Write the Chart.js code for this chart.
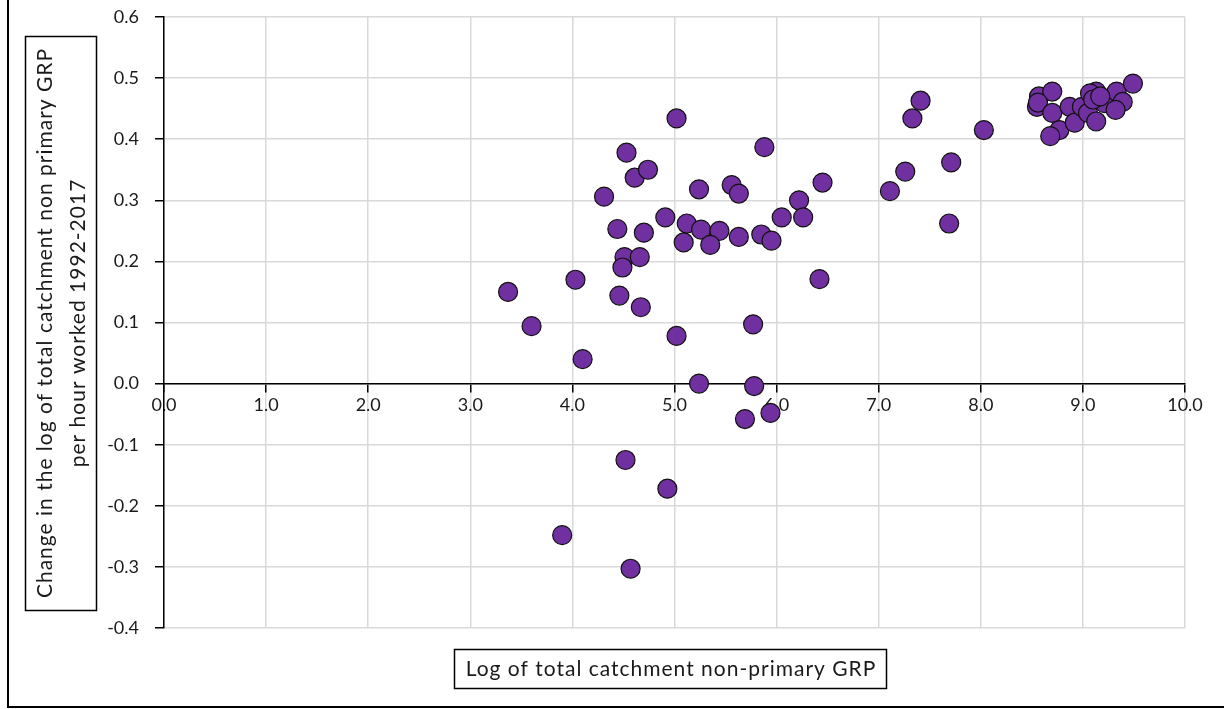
<!DOCTYPE html>
<html>
<head>
<meta charset="utf-8">
<script src="https://cdn.jsdelivr.net/npm/chart.js@4.4.1/dist/chart.umd.min.js"></script>
<style>
  html, body { margin: 0; padding: 0; background: #fff; }
  .chart-wrap { position: relative; width: 1224px; height: 709px; }
</style>
</head>
<body>
<div class="chart-wrap"><canvas id="chart"></canvas></div>
<script>
// Log of total catchment non-primary GRP
const xVals = [
  3.37, 3.60, 4.03, 4.10, 3.90, 4.31, 4.44, 4.46, 4.53, 4.51,
  4.49, 4.61, 4.74, 4.66, 4.70, 4.67, 4.52, 4.57, 4.91, 4.93,
  5.02, 5.02, 5.12, 5.09, 5.24, 5.26, 5.24, 5.44, 5.35, 5.56,
  5.63, 5.63, 5.88, 5.85, 5.95, 5.77, 5.78, 5.94, 5.69, 6.05,
  6.22, 6.26, 6.45, 6.42, 7.11, 7.26, 7.33, 7.41, 7.71, 7.69,
  8.03, 8.57, 8.70, 8.55, 8.56, 8.70, 8.87, 8.77, 8.68, 8.92,
  8.99, 9.05, 9.13, 9.13, 9.07, 9.21, 9.33, 9.39, 9.32, 9.49,
  9.10, 9.17,
];
// Change in log GRP per hour worked 1992-2017
const yVals = [
  0.150, 0.094, 0.170, 0.040, -0.248, 0.306, 0.253, 0.144, 0.378, 0.207,
  0.190, 0.337, 0.350, 0.207, 0.247, 0.125, -0.125, -0.303, 0.272, -0.172,
  0.434, 0.078, 0.262, 0.231, 0.318, 0.252, 0.000, 0.250, 0.227, 0.325,
  0.311, 0.240, 0.387, 0.244, 0.234, 0.097, -0.004, -0.048, -0.058, 0.272,
  0.300, 0.272, 0.329, 0.171, 0.315, 0.347, 0.434, 0.463, 0.362, 0.262,
  0.415, 0.470, 0.478, 0.453, 0.460, 0.443, 0.453, 0.415, 0.405, 0.427,
  0.453, 0.443, 0.429, 0.478, 0.475, 0.459, 0.478, 0.461, 0.448, 0.491,
  0.465, 0.470,
];
const xTitle = "Log of total catchment non-primary GRP";
const yTitle = ["Change in the log of total catchment non primary GRP", "per hour worked 1992-2017"];

const FONT = "Lato, 'Open Sans', sans-serif";
const points = xVals.map((x, i) => ({ x, y: yVals[i] }));

// boxed axis titles + outer frame, Excel style
const boxedTitles = {
  id: "boxedTitles",
  beforeDraw(chart) {
    const ctx = chart.ctx;
    ctx.save();
    ctx.fillStyle = "#fff";
    ctx.fillRect(0, 0, chart.width, chart.height);
    ctx.restore();
  },
  afterDraw(chart) {
    const ctx = chart.ctx;
    ctx.save();
    ctx.strokeStyle = "#000";
    ctx.lineWidth = 2;
    ctx.beginPath();
    ctx.moveTo(8, 0);
    ctx.lineTo(8, 707);
    ctx.lineTo(chart.width, 707);
    ctx.stroke();

    ctx.lineWidth = 1.5;
    ctx.fillStyle = "#1a1a1a";
    ctx.textAlign = "center";
    ctx.textBaseline = "middle";

    // x title
    ctx.font = `21px ${FONT}`;
    ctx.letterSpacing = "1px";
    ctx.strokeRect(454.5, 649.5, 432, 39);
    ctx.fillText(xTitle, 671, 669);

    // y title (rotated)
    ctx.font = `21px ${FONT}`;
    ctx.letterSpacing = "1px";
    ctx.strokeRect(25.5, 36.5, 71, 574);
    ctx.translate(61, 323);
    ctx.rotate(-Math.PI / 2);
    ctx.fillText(yTitle[0], 0, -16);
    ctx.fillText(yTitle[1], 0, 17);
    ctx.restore();
  },
};

new Chart(document.getElementById("chart"), {
  type: "scatter",
  data: {
    datasets: [
      {
        label: "Catchments",
        data: points,
        backgroundColor: "#7030A0",
        borderColor: "#111",
        borderWidth: 1.2,
        pointRadius: 9.5,
        pointHoverRadius: 9.5,
      },
    ],
  },
  options: {
    responsive: true,
    maintainAspectRatio: false,
    animation: false,
    layout: { padding: { left: 100, top: 17, right: 39, bottom: 81 } },
    plugins: {
      legend: { display: false },
      tooltip: { enabled: false },
    },
    scales: {
      x: {
        type: "linear",
        position: { y: 0 },
        min: 0,
        max: 10,
        ticks: {
          stepSize: 1,
          padding: 3,
          color: "#1a1a1a",
          font: { family: FONT, size: 18 },
          callback: (v) => v.toFixed(1),
        },
        grid: { color: "#d9d9d9", lineWidth: 1.5, tickColor: "#000", tickLength: 8 },
        border: { color: "#000", width: 1.5 },
      },
      y: {
        position: "left",
        min: -0.4,
        max: 0.6,
        afterFit: (s) => {
          s.width = 64;
          // labels may overhang the plot edges, like Excel
          s.paddingTop = 0;
          s.paddingBottom = 0;
        },
        ticks: {
          stepSize: 0.1,
          padding: 16,
          color: "#1a1a1a",
          font: { family: FONT, size: 18 },
          callback: (v) => v.toFixed(1),
        },
        grid: { color: "#d9d9d9", lineWidth: 1.5, tickColor: "#000", tickLength: 9 },
        border: { color: "#000", width: 1.5 },
      },
    },
  },
  plugins: [boxedTitles],
});
</script>
</body>
</html>
